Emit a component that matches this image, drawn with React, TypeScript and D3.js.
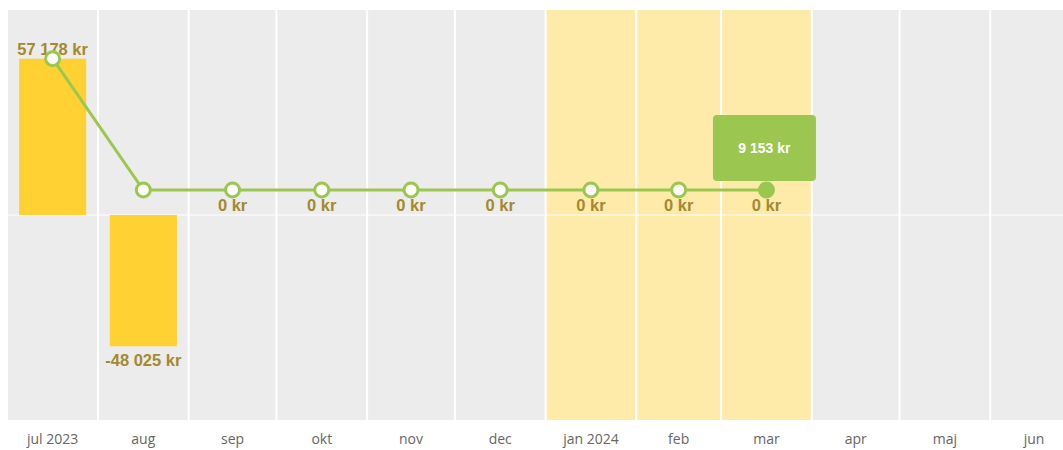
import React from "react";
import * as d3 from "d3";

// month boundaries (13 edges for 12 months)
const monthEdges = [
  "2023-07-01", "2023-08-01", "2023-09-01", "2023-10-01", "2023-11-01", "2023-12-01",
  "2024-01-01", "2024-02-01", "2024-03-01", "2024-04-01", "2024-05-01", "2024-06-01", "2024-07-01",
];
const monthLabels = ["jul 2023", "aug", "sep", "okt", "nov", "dec", "jan 2024", "feb", "mar", "apr", "maj", "jun"];
const monthlyValues: (number | null)[] = [57178, -48025, 0, 0, 0, 0, 0, 0, 0, null, null, null];
const balanceValues: (number | null)[] = [57178, 9153, 9153, 9153, 9153, 9153, 9153, 9153, 9153, null, null, null];
const highlightedMonths = ["jan 2024", "feb", "mar"];
const yDomain = [-75000, 75000];

const width = 1063;
const height = 450;
const margin = { top: 10, bottom: 30, left: 8 };
// the time axis runs a bit past the visible edge, last month is cut off
const xRange = [7.3, 1078];

const locale = d3.formatLocale({
  decimal: ",",
  thousands: " ",
  grouping: [3],
  currency: ["", " kr"],
  minus: "-",
});
const fmt = (v: number) => locale.format(",.0f")(v) + " kr";

const App = () => {
  const parse = d3.timeParse("%Y-%m-%d");
  const edges = monthEdges.map((d) => parse(d) as Date);

  const x = d3.scaleTime()
    .domain([edges[0], edges[edges.length - 1]])
    .range(xRange);
  const y = d3.scaleLinear().domain(yDomain).range([height - margin.bottom, margin.top]);

  const months = monthLabels.map((label, i) => {
    const x0 = x(edges[i]);
    const x1 = x(edges[i + 1]);
    return { label, x0, x1, cx: (x0 + x1) / 2, value: monthlyValues[i], balance: balanceValues[i] };
  });

  const linePts = months.filter((m) => m.balance !== null);
  const line = d3.line<typeof linePts[0]>()
    .x((d) => d.cx)
    .y((d) => y(d.balance as number));

  const last = linePts[linePts.length - 1];
  const tipW = 103;
  const tipH = 66;

  const gold = "#a3892f";
  const green = "#9bc750";
  const plotH = height - margin.top - margin.bottom;

  return (
    <svg width={width} height={height} style={{ position: "absolute", left: 0, top: 0 }}>
      <rect x={margin.left} y={margin.top} width={width - margin.left} height={plotH} fill="#ececec" />
      {months.filter((m) => highlightedMonths.includes(m.label)).map((m) => (
        <rect key={"h" + m.label} x={m.x0} y={margin.top} width={m.x1 - m.x0} height={plotH} fill="#feebaa" />
      ))}
      {months.slice(1).map((m) => (
        <line key={"g" + m.label} x1={m.x0} x2={m.x0} y1={margin.top} y2={height - margin.bottom}
          stroke="#fff" strokeWidth={2} />
      ))}
      <line x1={margin.left} x2={width} y1={y(0)} y2={y(0)} stroke="#fff" strokeWidth={1} />

      {months.filter((m) => m.value !== null).map((m) => {
        const v = m.value as number;
        const bw = (m.x1 - m.x0) * 0.74;
        const top = Math.min(y(v), y(0));
        const h = Math.abs(y(v) - y(0));
        return (
          <g key={"b" + m.label}>
            {h > 0 && <rect x={m.cx - bw / 2} y={top} width={bw} height={h} fill="#ffd133" />}
            <text x={m.cx} y={v < 0 ? y(v) + 20 : y(v) - 4} textAnchor="middle"
              fontFamily="'Liberation Sans', Arial, sans-serif" fontSize={16.5} fontWeight="bold" fill={gold}>
              {fmt(v)}
            </text>
          </g>
        );
      })}

      <path d={line(linePts) || ""} fill="none" stroke={green} strokeWidth={3} />
      {linePts.map((m) => (
        <circle key={"p" + m.label} cx={m.cx} cy={y(m.balance as number)} r={7}
          fill={m === last ? green : "#fff"} stroke={green} strokeWidth={3} />
      ))}

      <g transform={`translate(${last.cx - 2}, ${y(last.balance as number) - 9})`}>
        <rect x={-tipW / 2} y={-tipH} width={tipW} height={tipH} rx={4} fill={green} />
        <text x={0} y={-tipH / 2 + 5} textAnchor="middle" fill="#fff"
          fontFamily="'Liberation Sans', Arial, sans-serif" fontSize={14} fontWeight="bold">
          {fmt(last.balance as number)}
        </text>
      </g>

      {months.map((m) => (
        <text key={"t" + m.label} x={m.cx} y={height - 6} textAnchor="middle"
          fontFamily="'Open Sans', sans-serif" fontSize={14} fill="#666">
          {m.label}
        </text>
      ))}
    </svg>
  );
};

export default App;
